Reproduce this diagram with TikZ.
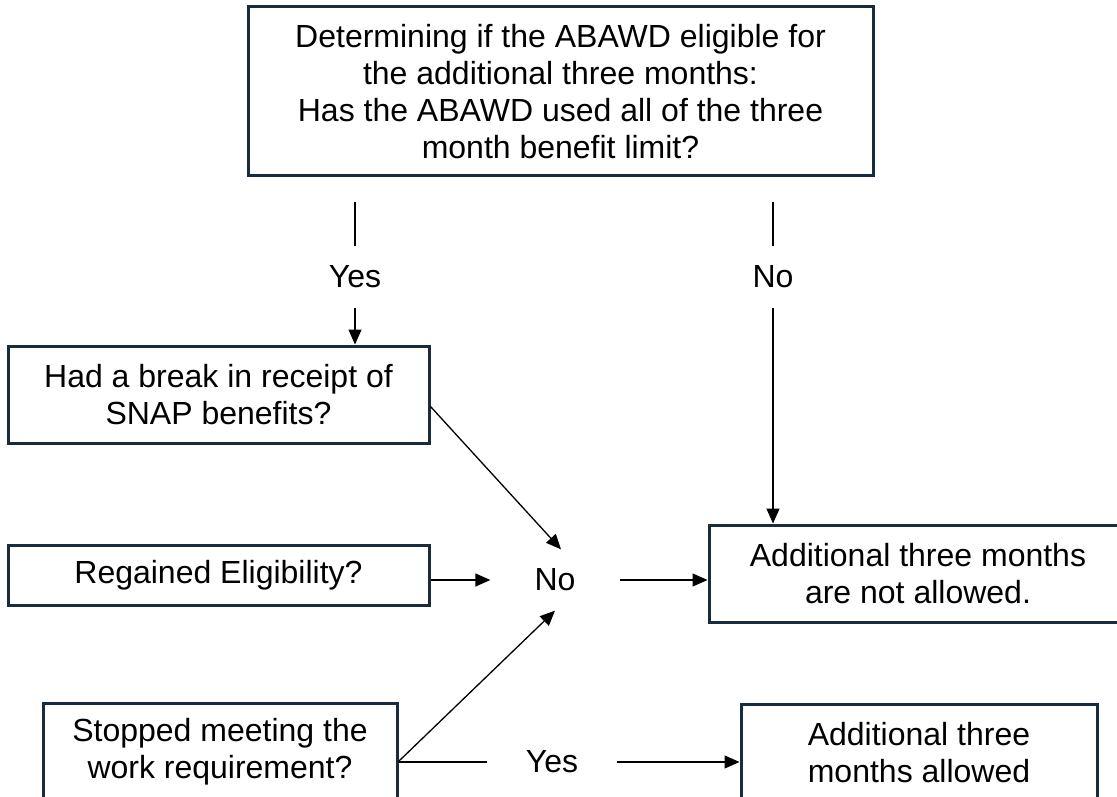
\documentclass[tikz,border=0pt]{standalone}
\usepackage{fontspec}
\setmainfont{Liberation Sans}
\usetikzlibrary{arrows.meta}
\definecolor{boxline}{RGB}{24,44,60}

\begin{document}
\begin{tikzpicture}[x=1pt, y=-1pt]
	\useasboundingbox (0, 0) rectangle (1117, 797);
	\clip (0, 0) rectangle (1117, 797);
	\begin{scope}[line width=1.3pt]
		\tikzstyle{every node}=[align=center, inner sep=0pt, font=\fontsize{32}{36.8}\selectfont]
		\tikzstyle{box}=[draw=boxline, line width=3pt]
		\tikzstyle{lbl}=[minimum width=128pt, minimum height=60pt]
		\tikzstyle{arr}=[-{Triangle[length=15pt, width=13pt]}]

		\node [box, minimum width=625pt, minimum height=169pt] (q) at (560.5, 91.5) {Determining if the ABAWD eligible for\\the additional three months:\\Has the ABAWD used all of the three\\month benefit limit?};

		\node [lbl] (yes1) at (355, 277) {Yes};
		\node [lbl] (no1) at (773, 277) {No};

		\node [box, minimum width=421pt, minimum height=97pt] (brk) at (218.5, 394.5) {Had a break in receipt of\\SNAP benefits?};
		\node [box, minimum width=421pt, minimum height=60pt] (rgn) at (218.5, 575) {Regained Eligibility?};
		\node [box, minimum width=354pt, minimum height=97pt] (stp) at (220, 751.5) {Stopped meeting the\\work requirement?};

		\node [lbl] (no2) at (555, 580) {No};
		\node [lbl] (yes2) at (552, 762) {Yes};

		\node [box, minimum width=418pt, minimum height=97pt] (nal) at (918, 573.5) {Additional three months\\are not allowed.};
		\node [box, minimum width=356pt, minimum height=97pt] (alw) at (919, 752.5) {Additional three\\months allowed};

		\draw [shorten <=24pt] (yes1 |- q.south) to (yes1.north);
		\draw [shorten <=24pt] (no1 |- q.south) to (no1.north);
		\draw [arr] (yes1.south) to (yes1.south |- brk.north);
		\draw [arr] (no1.south) to (no1.south |- nal.north);

		\draw [arr] ([yshift=-12pt]brk.east) to ([xshift=6pt]no2.north);
		\draw [arr] (rgn.east |- no2) to (no2.west);
		\draw [arr] ([yshift=-10pt]stp.east) to (no2.south);
		\draw [arr] (no2.east) to (no2.east -| nal.west);

		\draw [] (stp.east |- yes2) to (yes2.west);
		\draw [arr] (yes2.east) to (yes2.east -| alw.west);
	\end{scope}
\end{tikzpicture}
\end{document}
